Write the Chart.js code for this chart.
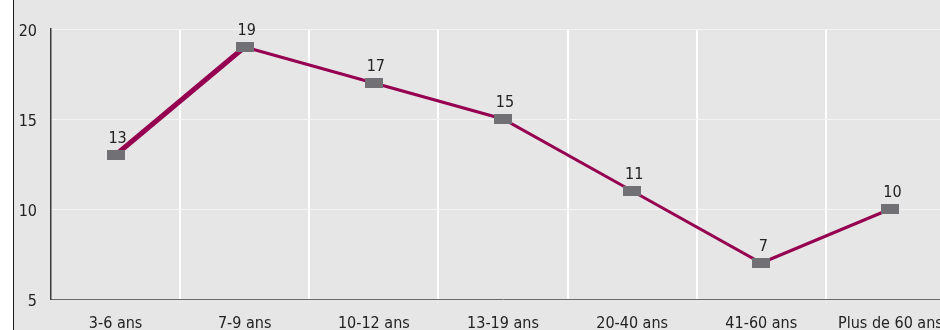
<!DOCTYPE html>
<html>
<head>
<meta charset="utf-8">
<script src="https://cdn.jsdelivr.net/npm/chart.js@4/dist/chart.umd.min.js"></script>
<style>
  html, body { margin: 0; padding: 0; background: #fff; overflow: hidden; }
  #wrap { position: relative; width: 967px; height: 330px; }
</style>
</head>
<body>
<div id="wrap"><canvas id="c" width="967" height="330"></canvas></div>
<script>
// Age groups and their values
const categories = ['3-6 ans', '7-9 ans', '10-12 ans', '13-19 ans', '20-40 ans', '41-60 ans', 'Plus de 60 ans'];
const values = [13, 19, 17, 15, 11, 7, 10];
const yTicks = [5, 10, 15, 20];

const FONT = '"DejaVu Sans Condensed", "Liberation Sans Narrow", "DejaVu Sans", sans-serif';
const LINE_COLOR = '#960050';
const MARK_COLOR = '#707075';

// Flat rectangular marker used for each point
const marker = document.createElement('canvas');
marker.width = 18;
marker.height = 10;
(function () {
  const m = marker.getContext('2d');
  m.fillStyle = MARK_COLOR;
  m.fillRect(0, 0, 18, 10);
})();

// Panel: white margin, dark rule, grey plotting background
const panelBg = {
  id: 'panelBg',
  beforeDraw(chart) {
    const { ctx, width, height } = chart;
    ctx.save();
    ctx.fillStyle = '#ffffff';
    ctx.fillRect(0, 0, width, height);
    ctx.fillStyle = '#e6e6e6';
    ctx.fillRect(14, 0, width - 14, height);
    ctx.fillStyle = '#1a1a1a';
    ctx.fillRect(13, 0, 1, height);
    ctx.restore();
  }
};

// Value written above each marker
const valueLabels = {
  id: 'valueLabels',
  afterDatasetsDraw(chart) {
    const { ctx } = chart;
    const meta = chart.getDatasetMeta(0);
    ctx.save();
    ctx.font = '16px ' + FONT;
    ctx.fillStyle = '#222222';
    ctx.textAlign = 'center';
    ctx.textBaseline = 'alphabetic';
    meta.data.forEach((pt, i) => {
      ctx.fillText(String(values[i]), pt.x + 2, pt.y - 12);
    });
    ctx.restore();
  }
};

new Chart(document.getElementById('c'), {
  type: 'line',
  data: {
    labels: categories,
    datasets: [{
      data: values,
      borderColor: LINE_COLOR,
      borderWidth: 3,
      segment: {
        borderWidth: ctx => ctx.p0DataIndex === 0 ? 5 : 3
      },
      pointStyle: marker,
      pointRadius: 9,
      pointHoverRadius: 9,
      tension: 0,
      fill: false
    }]
  },
  options: {
    responsive: false,
    animation: false,
    events: [],
    layout: { padding: { left: 0, top: 29, right: 0, bottom: 0 } },
    plugins: {
      legend: { display: false },
      tooltip: { enabled: false }
    },
    scales: {
      x: {
        offset: true,
        grid: {
          offset: true,
          drawTicks: false,
          lineWidth: 2,
          color: ctx => ctx.index === 0 ? 'rgba(0,0,0,0)' : '#ffffff'
        },
        border: { display: true, color: '#6a6a6a', width: 1 },
        ticks: {
          padding: 15,
          maxRotation: 0,
          autoSkip: false,
          color: '#222222',
          font: { family: FONT, size: 16 }
        },
        afterFit(scale) {
          scale.height = 31;
          scale.paddingRight = 0;
          scale.paddingLeft = 0;
        }
      },
      y: {
        min: 5,
        max: 20,
        afterBuildTicks(scale) { scale.ticks = yTicks.map(v => ({ value: v })); },
        grid: {
          drawTicks: false,
          lineWidth: 1,
          color: '#f4f4f4'
        },
        border: { display: true, color: '#3a3a3a', width: 1.5 },
        ticks: {
          padding: 14,
          labelOffset: 3,
          color: '#222222',
          font: { family: FONT, size: 16 }
        },
        afterFit(scale) { scale.width = 51; }
      }
    }
  },
  plugins: [panelBg, valueLabels]
});
</script>
</body>
</html>
